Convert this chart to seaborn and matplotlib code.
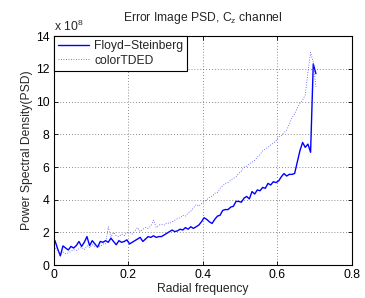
import numpy as np
import pandas as pd
import matplotlib
matplotlib.use("Agg")
import matplotlib.pyplot as plt
import seaborn as sns

# radial frequency bins (centres) and PSD values, in units of 1e8
radial_freq = (np.arange(99) + 0.5) / 140

floyd_steinberg = [
    1.50, 1.00, 0.57, 1.18, 1.05, 0.93, 1.15, 1.05, 1.20, 1.45,
    1.15, 1.40, 1.75, 1.20, 1.50, 1.30, 1.10, 1.45, 1.40, 1.50,
    1.40, 1.65, 1.45, 1.25, 1.50, 1.40, 1.45, 1.55, 1.30, 1.40,
    1.50, 1.60, 1.70, 1.45, 1.60, 1.75, 1.70, 1.80, 1.70, 1.75,
    1.75, 1.85, 1.95, 2.05, 2.15, 2.05, 2.10, 2.20, 2.15, 2.30,
    2.20, 2.35, 2.25, 2.35, 2.45, 2.65, 2.90, 2.80, 2.65, 2.55,
    2.80, 3.00, 3.05, 3.35, 3.40, 3.40, 3.55, 3.60, 3.90, 3.90,
    3.85, 4.10, 4.20, 4.05, 4.50, 4.35, 4.60, 4.55, 4.75, 4.70,
    5.00, 4.90, 5.10, 5.05, 5.15, 5.40, 5.60, 5.45, 5.55, 5.55,
    5.60, 6.30, 7.00, 7.50, 7.20, 7.40, 6.90, 12.30, 11.70,
]

color_tded = [
    1.05, 0.90, 0.63, 0.80, 0.70, 0.75, 0.85, 0.95, 0.90, 1.00,
    1.10, 0.95, 1.20, 1.05, 1.25, 1.15, 1.20, 1.15, 1.30, 1.30,
    2.35, 1.70, 2.00, 1.80, 1.75, 1.90, 1.80, 2.00, 2.00, 1.90,
    2.10, 2.30, 2.05, 2.20, 2.30, 2.25, 2.40, 2.75, 2.30, 2.45,
    2.50, 2.45, 2.60, 2.55, 2.65, 2.75, 2.85, 2.90, 3.05, 3.00,
    3.20, 3.30, 3.50, 3.70, 3.60, 3.75, 3.90, 4.00, 4.15, 4.20,
    4.40, 4.45, 4.70, 4.85, 5.00, 5.05, 5.20, 5.30, 5.40, 5.60,
    5.75, 6.00, 6.05, 6.20, 6.30, 6.40, 6.60, 6.75, 7.00, 7.10,
    7.20, 7.35, 7.45, 7.60, 7.85, 7.90, 8.10, 8.25, 8.60, 9.00,
    9.25, 9.60, 9.90, 10.10, 10.40, 11.80, 13.00, 12.40, 10.90,
]

x_ticks = [0, 0.2, 0.4, 0.6, 0.8]
y_ticks = [0, 2, 4, 6, 8, 10, 12, 14]

sns.set_theme(style="ticks")
plt.rcParams['font.family'] = ['Liberation Sans', 'DejaVu Sans']
plt.rcParams['mathtext.fontset'] = 'custom'
plt.rcParams['mathtext.rm'] = 'Liberation Sans'
plt.rcParams['mathtext.it'] = 'Liberation Sans'

fs = 8.7
df = pd.DataFrame({'freq': radial_freq, 'fs': floyd_steinberg, 'tded': color_tded})

fig = plt.figure(figsize=(3.65, 2.98), dpi=100)
ax = fig.add_axes([0.147, 0.110, 0.817, 0.769])

sns.lineplot(data=df, x='freq', y='fs', ax=ax, color='#0000ff', linewidth=1.0,
             label='Floyd\u2212Steinberg')
sns.lineplot(data=df, x='freq', y='tded', ax=ax, color='#4a4aff', linewidth=0.6,
             linestyle=(0, (1, 2)), label='colorTDED')

ax.set_xlim(0, 0.8)
ax.set_ylim(0, 14)
ax.set_xticks(x_ticks)
ax.set_xticklabels(['0', '0.2', '0.4', '0.6', '0.8'])
ax.set_yticks(y_ticks)
ax.grid(True, color='#666666', linestyle=(0, (1, 2.5)), linewidth=0.6)
ax.tick_params(direction='in', length=3, width=0.6, labelsize=fs, colors='black',
               top=True, right=True, pad=3)
for s in ax.spines.values():
    s.set_visible(True)
    s.set_linewidth(0.8)
    s.set_color('black')

ax.set_xlabel('Radial frequency', fontsize=fs, labelpad=1)
ax.set_ylabel('Power Spectral Density(PSD)', fontsize=fs, labelpad=2)
ax.set_title('Error Image PSD, C$_z$ channel', fontsize=fs, pad=11)
ax.text(0.0, 1.01, 'x 10$^8$', transform=ax.transAxes, fontsize=fs,
        ha='left', va='bottom')

leg = ax.legend(loc='upper left', fontsize=fs, frameon=True, fancybox=False,
                borderaxespad=0, handlelength=2.6, handletextpad=0.4,
                borderpad=0.35, labelspacing=0.2)
leg.get_frame().set_edgecolor('black')
leg.get_frame().set_linewidth(0.8)
leg.get_frame().set_alpha(1)

fig.savefig('out.png', dpi=100)
